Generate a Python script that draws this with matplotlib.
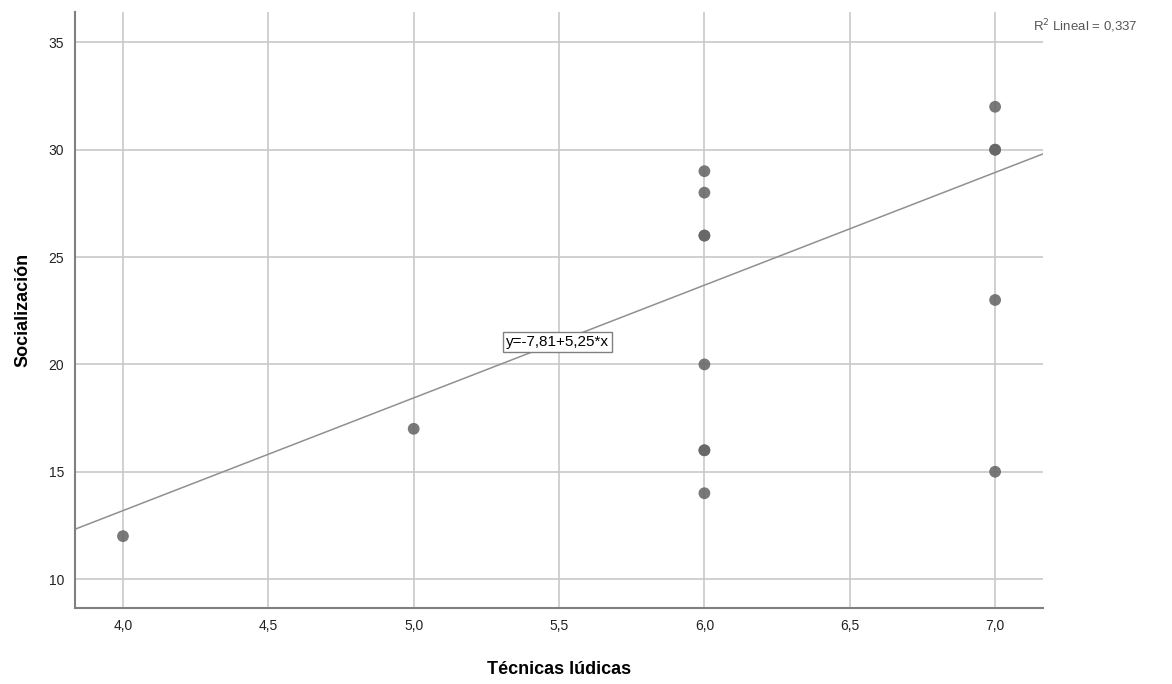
import matplotlib.pyplot as plt
import numpy as np

plt.rcParams['font.family'] = ['Liberation Sans', 'DejaVu Sans']

# data
tecnicas = [4, 5, 6, 6, 6, 6, 6, 6, 6, 6, 7, 7, 7, 7, 7]
socializacion = [12, 17, 29, 28, 26, 26, 20, 16, 16, 14, 32, 30, 30, 23, 15]
intercept = -7.81
slope = 5.25
r2_text = "R$^2$ Lineal = 0,337"
eq_text = "y=-7,81+5,25*x"
xticks = [4.0, 4.5, 5.0, 5.5, 6.0, 6.5, 7.0]
yticks = [10, 15, 20, 25, 30, 35]

fig = plt.figure(figsize=(11.72, 6.84), dpi=100)
ax = fig.add_axes([0.064, 0.111, 0.826, 0.871])

xmin, xmax = 3.835, 7.165
ax.set_xlim(xmin, xmax)
ax.set_ylim(8.65, 36.4)

ax.set_xticks(xticks)
ax.set_xticklabels([f"{t:.1f}".replace('.', ',') for t in xticks])
ax.set_yticks(yticks)
ax.grid(True, color='#c8c8c8', linewidth=1.2)
ax.set_axisbelow(True)

for s in ['top', 'right']:
    ax.spines[s].set_visible(False)
for s in ['left', 'bottom']:
    ax.spines[s].set_color('#808080')
    ax.spines[s].set_linewidth(1.5)
ax.tick_params(length=0, labelsize=10, pad=8, colors='#222222')

xs = np.array([xmin, xmax])
ax.plot(xs, intercept + slope * xs, color='#909090', linewidth=1.1, zorder=2)

ax.scatter(tecnicas, socializacion, s=72, color='#666666', alpha=0.88,
           edgecolors='none', zorder=3)

ax.text(5.494, 21.05, eq_text, ha='center', va='center', fontsize=11,
        bbox=dict(boxstyle='square,pad=0.2', facecolor='white',
                  edgecolor='#808080', linewidth=1), zorder=4)

fig.text(0.881, 0.962, r2_text, fontsize=9.5, color='#555555', va='center')

ax.set_xlabel("Técnicas lúdicas", fontsize=13, fontweight='bold', labelpad=20)
ax.set_ylabel("Socialización", fontsize=13, fontweight='bold', labelpad=12)

fig.savefig('out.png', dpi=100)
